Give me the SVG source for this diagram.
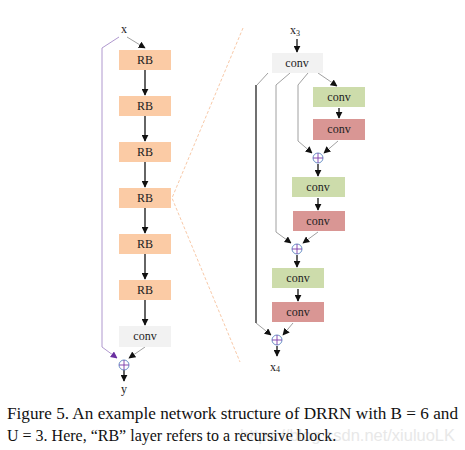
<svg xmlns="http://www.w3.org/2000/svg" width="465" height="450" viewBox="0 0 465 450">
<defs>
<marker id="ab" viewBox="0 0 10 10" refX="9" refY="5" markerWidth="7" markerHeight="7" markerUnits="userSpaceOnUse" orient="auto"><path d="M0,0 L10,5 L0,10 z" fill="#111"/></marker>
<marker id="ap" viewBox="0 0 10 10" refX="9" refY="5" markerWidth="7" markerHeight="7" markerUnits="userSpaceOnUse" orient="auto"><path d="M0,0 L10,5 L0,10 z" fill="#6a2fa0"/></marker>
<style>
.rb{fill:#fbcba5}
.gc{fill:#f2f2f2}
.gr{fill:#cddcab}
.rd{fill:#d99694}
.lbl{font-family:"Liberation Serif","Times New Roman",serif;font-size:12px;fill:#222;text-anchor:middle}
.main{stroke:#111;stroke-width:1.3;fill:none}
.thin{stroke:#888;stroke-width:0.8;fill:none}
.sum circle{fill:#fff;stroke:#5b86c0;stroke-width:0.9}
.sum path{stroke:#7a3aa8;stroke-width:0.9;fill:none}
.cap{font-family:"Liberation Serif","Times New Roman",serif;font-size:16px;fill:#111}
</style>
</defs>
<rect width="465" height="450" fill="#fff"/>

<!-- dashed zoom lines -->
<path d="M243,28 L172,198 L240,362" fill="none" stroke="#f8c9a8" stroke-width="1" stroke-dasharray="3,2"/>

<g id="connectors">
<!-- left column -->
<path class="thin" d="M127,37 L145,48" marker-end="url(#ab)"/>
<path d="M119,37 L102,48 L102,347 L117,358" fill="none" stroke="#a68cc8" stroke-width="0.9" marker-end="url(#ap)"/>
<path class="main" d="M145,70 V95" marker-end="url(#ab)"/>
<path class="main" d="M145,116 V141" marker-end="url(#ab)"/>
<path class="main" d="M145,162 V187" marker-end="url(#ab)"/>
<path class="main" d="M145,208 V233" marker-end="url(#ab)"/>
<path class="main" d="M145,254 V279" marker-end="url(#ab)"/>
<path class="main" d="M145,300 V325" marker-end="url(#ab)"/>
<path class="thin" d="M145,347 L129,358" marker-end="url(#ab)"/>
<path class="main" d="M124,370 V381" marker-end="url(#ab)"/>
<!-- right column -->
<path class="main" d="M297,39 V52" marker-end="url(#ab)"/>
<path class="thin" d="M268,73 L257,85"/>
<path d="M256,85 V323" stroke="#111" stroke-width="1.2" fill="none"/>
<path class="thin" d="M256,323 L271,335" marker-end="url(#ab)"/>
<path class="thin" d="M290,73 L276,85 V232 L291,243" marker-end="url(#ab)"/>
<path class="thin" d="M308,73 L298,85 V141 L312,153" marker-end="url(#ab)"/>
<path class="thin" d="M318,73 L337,86" marker-end="url(#ab)"/>
<path class="main" d="M339,108 V118" marker-end="url(#ab)"/>
<path class="thin" d="M338,141 L324,153" marker-end="url(#ab)"/>
<path class="main" d="M318,164 V176" marker-end="url(#ab)"/>
<path class="main" d="M318,198 V210" marker-end="url(#ab)"/>
<path class="thin" d="M318,232 L303,243" marker-end="url(#ab)"/>
<path class="main" d="M297,255 V267" marker-end="url(#ab)"/>
<path class="main" d="M298,289 V301" marker-end="url(#ab)"/>
<path class="thin" d="M293,323 L283,335" marker-end="url(#ab)"/>
<path class="main" d="M277,346 V356" marker-end="url(#ab)"/>
</g>

<!-- left column nodes -->
<g id="x"><text class="lbl" x="124" y="33">x</text></g>
<g id="rb1"><rect class="rb" x="119" y="50" width="52" height="20"/><text class="lbl" x="145" y="64">RB</text></g>
<g id="rb2"><rect class="rb" x="119" y="96" width="52" height="20"/><text class="lbl" x="145" y="110">RB</text></g>
<g id="rb3"><rect class="rb" x="119" y="142" width="52" height="20"/><text class="lbl" x="145" y="156">RB</text></g>
<g id="rb4"><rect class="rb" x="119" y="188" width="52" height="20"/><text class="lbl" x="145" y="202">RB</text></g>
<g id="rb5"><rect class="rb" x="119" y="234" width="52" height="20"/><text class="lbl" x="145" y="248">RB</text></g>
<g id="rb6"><rect class="rb" x="119" y="280" width="52" height="20"/><text class="lbl" x="145" y="294">RB</text></g>
<g id="convL"><rect class="gc" x="119" y="326" width="52" height="21"/><text class="lbl" x="145" y="340">conv</text></g>
<g id="sumL" class="sum"><circle cx="124" cy="365" r="5"/><path d="M119,365 H129 M124,360 V370"/></g>
<g id="y"><text class="lbl" x="124" y="393">y</text></g>

<!-- right column nodes -->
<g id="x3"><text class="lbl" x="295" y="34">x<tspan font-size="8" dy="2">3</tspan></text></g>
<g id="conv0"><rect class="gc" x="272" y="53" width="51" height="20"/><text class="lbl" x="297" y="67">conv</text></g>
<g id="g1"><rect class="gr" x="313" y="87" width="52" height="20"/><text class="lbl" x="339" y="101">conv</text></g>
<g id="r1"><rect class="rd" x="313" y="119" width="52" height="21"/><text class="lbl" x="339" y="133">conv</text></g>
<g id="sum1" class="sum"><circle cx="318" cy="158" r="5"/><path d="M313,158 H323 M318,153 V163"/></g>
<g id="g2"><rect class="gr" x="292" y="177" width="53" height="20"/><text class="lbl" x="318" y="191">conv</text></g>
<g id="r2"><rect class="rd" x="293" y="211" width="52" height="20"/><text class="lbl" x="318" y="225">conv</text></g>
<g id="sum2" class="sum"><circle cx="297" cy="249" r="5"/><path d="M292,249 H302 M297,244 V254"/></g>
<g id="g3"><rect class="gr" x="272" y="268" width="52" height="20"/><text class="lbl" x="298" y="282">conv</text></g>
<g id="r3"><rect class="rd" x="272" y="302" width="52" height="20"/><text class="lbl" x="298" y="316">conv</text></g>
<g id="sum3" class="sum"><circle cx="277" cy="340" r="5"/><path d="M272,340 H282 M277,335 V345"/></g>
<g id="x4"><text class="lbl" x="275" y="371">x<tspan font-size="8" dy="1">4</tspan></text></g>

<!-- caption -->
<text class="cap" x="7" y="419" textLength="451" lengthAdjust="spacingAndGlyphs">Figure 5. An example network structure of DRRN with B = 6 and</text>
<text x="240" y="441" font-family="Liberation Sans, Arial, sans-serif" font-size="16" fill="#e8e8e8" textLength="215" lengthAdjust="spacingAndGlyphs">https://blog.csdn.net/xiuluoLK</text>
<text class="cap" x="7" y="441">U = 3. Here, “RB” layer refers to a recursive block.</text>
</svg>
